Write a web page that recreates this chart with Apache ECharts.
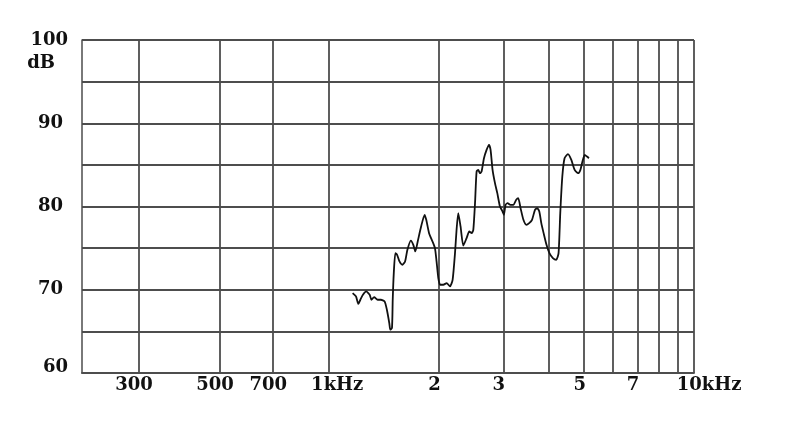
<!DOCTYPE html>
<html>
<head>
<meta charset="utf-8">
<script src="https://cdn.jsdelivr.net/npm/echarts@6/dist/echarts.min.js"></script>
<style>
html,body{margin:0;padding:0;background:#fff;}
#chart{width:800px;height:431px;}
</style>
</head>
<body>
<div id="chart"></div>
<script>
// Frequency (Hz) of each traced point of the response curve
var freqHz = [1159,1184,1202,1217,1237,1263,1291,1305,1328,1357,
  1386,1418,1439,1461,1470,1486,1493,1503,1518,1535,
  1558,1586,1614,1638,1674,1700,1722,1748,1786,1826,
  1845,1878,1919,1949,1969,1991,
  2013,2055,2098,2143,2179,2212,2234,2258,2291,2331,
  2380,2421,2457,2483,2510,2535,2562,2590,2616,2656,
  2700,2741,2769,2804,2847,2889,2938,2987,
  3011,3044,3083,3139,3198,3256,3297,3346,3407,3470,
  3533,3597,3665,3717,3766,3814,3870,3941,
  4015,4103,4191,4253,4299,4355,4417,4514,4610,4708,
  4811,4882,4945,5018,5090,5151];
// Level (dB) at each point
var levelDb = [69.6,69.2,68.3,68.8,69.4,69.8,69.4,68.8,69.1,68.8,
  68.8,68.6,67.6,66,65.2,65.4,68.8,72,74.4,74.2,
  73.4,73,73.4,74.8,75.9,75.4,74.6,75.8,77.6,79,
  78.4,76.8,75.8,75,73.4,71.4,
  70.6,70.6,70.8,70.4,71.2,74.4,77.2,79.2,77.6,75.3,
  76.2,77,76.8,77.2,80.4,84.2,84.4,84,84.2,85.8,
  86.8,87.4,86.8,84.4,82.8,81.6,80,79.4,
  79,80.2,80.4,80.2,80.2,80.8,81,79.8,78.4,77.8,
  78,78.4,79.6,79.8,79.4,78,76.8,75.4,
  74.4,73.8,73.6,74.4,79.2,83.6,85.8,86.3,85.6,84.4,
  84,84.4,85.4,86.2,86,85.8];
// Vertical grid line frequencies
var gridFreqs = [300,500,700,1000,2000,3000,4000,5000,6000,7000,8000,9000,10000];
// X tick labels
var labelFreqs = [300,500,700,1000,2000,3000,5000,7000,10000];
var labelTexts = ['300','500','700','1kHz','2','3','5','7','10kHz'];
// Y tick labels
var yLabels = [60,70,80,90,100];

var points = freqHz.map(function(f,i){return [f, levelDb[i]];});
var gridColor = '#4d4d4d';
var fontBase = {fontFamily:'DejaVu Serif', fontWeight:'bold', fontSize:18, color:'#111'};

var chart = echarts.init(document.getElementById('chart'), null, {renderer:'canvas'});
chart.setOption({
  animation:false,
  backgroundColor:'#fff',
  grid:{left:82, right:106, top:40, bottom:58, containLabel:false},
  xAxis:{
    type:'log', logBase:10, min:210, max:10000,
    axisLine:{show:true, lineStyle:{color:gridColor, width:1.8}},
    axisTick:{show:false},
    splitLine:{show:false},
    axisLabel:{
      customValues:labelFreqs,
      margin:3,
      fontFamily:'DejaVu Serif', fontWeight:'bold', fontSize:18, color:'#111',
      formatter:function(v){
        var best=0, bd=1e9;
        for(var i=0;i<labelFreqs.length;i++){var d=Math.abs(labelFreqs[i]-v); if(d<bd){bd=d;best=i;}}
        var t = labelTexts[best];
        if(t==='1kHz') return '{a|'+t+'}';
        if(t==='10kHz') return '{b|'+t+'}';
        return '{c|'+t+'}';
      },
      rich:{
        a:Object.assign({padding:[0,0,0,16]}, fontBase),
        b:Object.assign({padding:[0,0,0,30]}, fontBase),
        c:Object.assign({padding:[0,9,0,0]}, fontBase)
      }
    }
  },
  yAxis:{
    type:'value', min:60, max:100, interval:5,
    name:'dB', nameLocation:'end', nameGap:-23,
    nameTextStyle:{fontFamily:'DejaVu Serif', fontWeight:'bold', fontSize:18, color:'#111', align:'right', verticalAlign:'middle', padding:[0,27,0,0]},
    axisLine:{show:true, lineStyle:{color:gridColor, width:1.5}},
    axisTick:{show:false},
    splitLine:{show:true, lineStyle:{color:gridColor, width:1.8}},
    axisLabel:{
      margin:14,
      fontFamily:'DejaVu Serif', fontWeight:'bold', fontSize:18, color:'#111',
      formatter:function(v){
        if(yLabels.indexOf(v)<0) return '';
        if(v===60) return '{p|'+v+'}';
        if(v===100) return '{q|'+v+'}';
        return '{m|'+v+'}';
      },
      rich:{
        p:Object.assign({padding:[0,0,12,0]}, fontBase),
        q:Object.assign({padding:[0,0,0,0]}, fontBase),
        m:Object.assign({padding:[0,5,0,0]}, fontBase)
      }
    }
  },
  series:[
    {
      type:'line', data:[], z:1, silent:true,
      markLine:{
        silent:true, symbol:['none','none'], animation:false,
        label:{show:false},
        lineStyle:{color:gridColor, width:1.8, type:'solid'},
        data:gridFreqs.map(function(f){return {xAxis:f};})
      }
    },
    {
      type:'line', data:points, z:5, smooth:0.2,
      showSymbol:false, symbol:'none',
      lineStyle:{color:'#111', width:1.8}
    }
  ]
});
</script>
</body>
</html>
